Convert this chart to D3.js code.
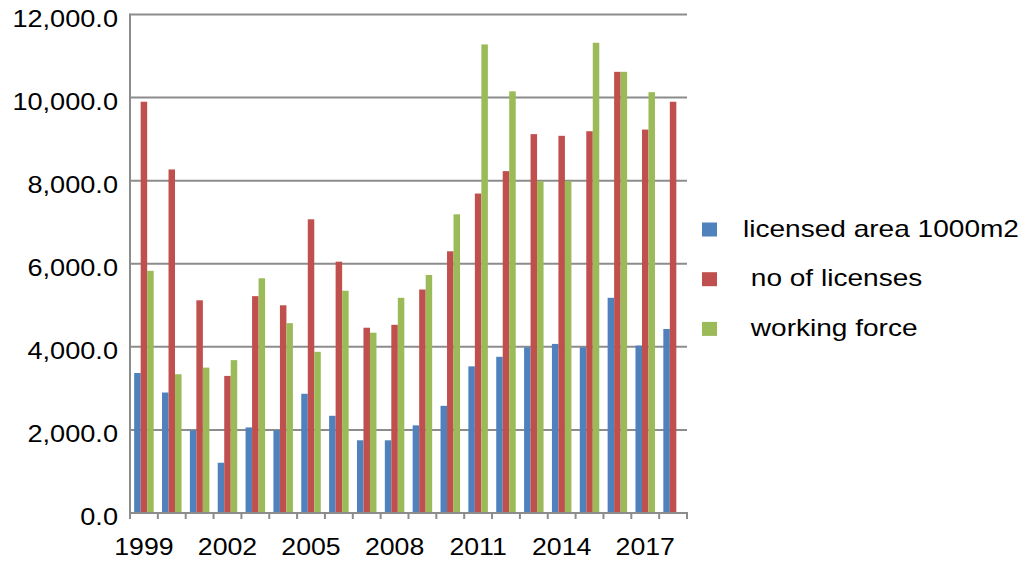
<!DOCTYPE html>
<html>
<head>
<meta charset="utf-8">
<script src="https://cdn.jsdelivr.net/npm/d3@7"></script>
<style>
	body { margin:0; background:#ffffff; }
	svg { display:block; }
</style>
</head>
<body>
<div id="chart"></div>
<script>

// --------------------------------
// chart data
// --------------------------------

var years = ["1999","2000","2001","2002","2003","2004","2005","2006","2007","2008",
             "2009","2010","2011","2012","2013","2014","2015","2016","2017","2018"];

var seriesNames = ["licensed area 1000m2"," no of licenses"," working force"];

var licensedArea = [3370,2900,1990,1210,2060,1990,2870,2340,1750,1750,
                    2110,2580,3530,3760,3990,4070,3990,5180,4030,4430];

var noOfLicenses = [9900,8270,5120,3300,5220,5000,7070,6050,4460,4530,
                    5380,6300,7690,8230,9120,9080,9190,10620,9230,9900];

var workingForce = [5830,3340,3500,3680,5650,4570,3880,5350,4340,5180,
                    5730,7190,11280,10150,7990,7990,11320,10620,10130,0];

var yTicks = [0,2000,4000,6000,8000,10000,12000];
var xLabelYears = ["1999","2002","2005","2008","2011","2014","2017"];

var colors = ["#4f81bd","#c0504d","#9bbb59"];

// --------------------------------
// layout
// --------------------------------

var width = 1029, height = 562;
var plotLeft = 130, plotRight = 687, plotTop = 14.5, plotBottom = 513;
var szFont = "'Liberation Sans',Arial,sans-serif";

var svg = d3.select("#chart").append("svg")
	.attr("width", width)
	.attr("height", height);

var x0 = d3.scaleBand()
	.domain(years)
	.range([plotLeft, plotRight])
	.paddingInner(0.3)
	.paddingOuter(0.15);

var x1 = d3.scaleBand()
	.domain([0,1,2])
	.range([0, x0.bandwidth()]);

var y = d3.scaleLinear()
	.domain([0, 12000])
	.range([plotBottom, plotTop]);

// text helper, the source image is stretched horizontally
var addText = function(target, x, yy, szText, anchor, nSize, nScaleX){
	target.append("g")
		.attr("transform", "translate(" + x + "," + yy + ") scale(" + nScaleX + ",1)")
		.append("text")
		.attr("text-anchor", anchor)
		.attr("style", "font-family:" + szFont + ";font-size:" + nSize + "px;fill:#000000;white-space:pre")
		.text(szText);
};

// --------------------------------
// gridlines and y labels
// --------------------------------

svg.append("g").selectAll("line")
	.data(yTicks.filter(function(d){ return d > 0; }))
	.enter().append("line")
	.attr("x1", plotLeft)
	.attr("x2", plotRight)
	.attr("y1", function(d){ return y(d); })
	.attr("y2", function(d){ return y(d); })
	.attr("style", "stroke:#8c8c8c;stroke-width:2");

var yLabels = svg.append("g");
yTicks.forEach(function(d){
	addText(yLabels, 118, y(d) + 12, d3.format(",.1f")(d), "end", 23, 1.18);
});

// --------------------------------
// bars
// --------------------------------

var allSeries = [licensedArea, noOfLicenses, workingForce];

var groups = svg.append("g").selectAll("g")
	.data(years)
	.enter().append("g")
	.attr("transform", function(d){ return "translate(" + x0(d) + ",0)"; });

groups.selectAll("rect")
	.data(function(d, i){
		return allSeries.map(function(s, k){ return {k:k, v:s[i]}; });
	})
	.enter().append("rect")
	.filter(function(d){ return d.v > 0; })
	.attr("x", function(d){ return x1(d.k); })
	.attr("width", x1.bandwidth())
	.attr("y", function(d){ return y(d.v); })
	.attr("height", function(d){ return y(0) - y(d.v); })
	.attr("fill", function(d){ return colors[d.k]; });

// --------------------------------
// axes lines and ticks
// --------------------------------

svg.append("line")
	.attr("x1", plotLeft).attr("x2", plotLeft)
	.attr("y1", plotTop - 1).attr("y2", plotBottom)
	.attr("style", "stroke:#8c8c8c;stroke-width:2");

svg.append("line")
	.attr("x1", plotLeft - 1).attr("x2", plotRight + 1)
	.attr("y1", plotBottom).attr("y2", plotBottom)
	.attr("style", "stroke:#8c8c8c;stroke-width:2");

var tickPos = years.map(function(d){ return x0(d) - x0.step() * x0.paddingOuter(); });
tickPos.push(plotRight);

svg.append("g").selectAll("line")
	.data(tickPos)
	.enter().append("line")
	.attr("x1", function(d){ return d; })
	.attr("x2", function(d){ return d; })
	.attr("y1", plotBottom)
	.attr("y2", plotBottom + 6)
	.attr("style", "stroke:#8c8c8c;stroke-width:2");

var xLabels = svg.append("g");
xLabelYears.forEach(function(d){
	addText(xLabels, x0(d) + x0.bandwidth() / 2, 555, d, "middle", 23, 1.16);
});

// --------------------------------
// legend
// --------------------------------

var legend = svg.append("g");
seriesNames.forEach(function(szName, i){
	var cy = 229.5 + i * 49.7;
	legend.append("rect")
		.attr("x", 702)
		.attr("y", cy - 7)
		.attr("width", 15)
		.attr("height", 14)
		.attr("fill", colors[i]);
	addText(legend, 743, cy + 7, szName, "start", 23, 1.22);
});

</script>
</body>
</html>
